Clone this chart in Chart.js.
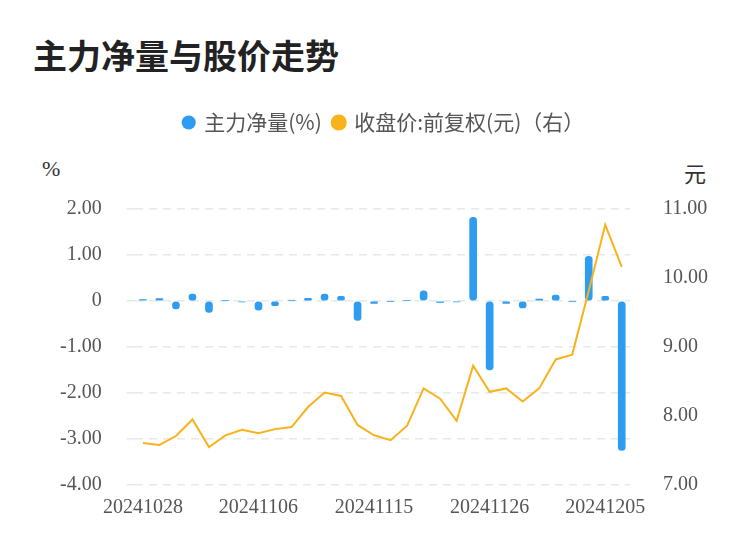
<!DOCTYPE html>
<html>
<head>
<meta charset="utf-8">
<script src="https://cdn.jsdelivr.net/npm/chart.js@4"></script>
<style>
  body { margin: 0; background: #fff; font-family: "Noto Sans CJK SC", sans-serif; }
  #wrap { position: relative; width: 750px; height: 558px; }
  h1 { position: absolute; left: 33px; top: 30px; margin: 0; font-size: 34px; font-weight: bold; color: #222; }
  .unit { position: absolute; top: 156px; font-size: 22px; color: #333; }
  #box { position: absolute; left: 0; top: 100px; width: 750px; height: 430px; }
</style>
</head>
<body>
<div id="wrap">
  <h1>主力净量与股价走势</h1>
  <div class="unit" style="left:42px;font-family:'Liberation Serif'">%</div>
  <div class="unit" style="left:684px">元</div>
  <div id="box"><canvas id="c"></canvas></div>
</div>
<script>
// 日期
const dates = ["20241028","20241029","20241030","20241031","20241101","20241104","20241105","20241106",
  "20241107","20241108","20241111","20241112","20241113","20241114","20241115","20241118","20241119",
  "20241120","20241121","20241122","20241125","20241126","20241127","20241128","20241129","20241202",
  "20241203","20241204","20241205","20241206"];
// 主力净量(%)
const netFlow = [0.03,0.05,-0.17,0.15,-0.25,0.01,-0.02,-0.2,-0.1,0.01,0.06,0.15,0.1,-0.42,-0.05,
  -0.01,0.01,0.22,-0.03,-0.02,1.82,-1.5,-0.05,-0.15,0.04,0.13,-0.01,0.97,0.1,-3.25];
// 收盘价
const price = [7.61,7.58,7.71,7.95,7.55,7.72,7.80,7.75,7.81,7.84,8.13,8.34,8.29,7.87,7.72,
  7.65,7.86,8.40,8.25,7.93,8.73,8.35,8.40,8.21,8.40,8.82,8.89,9.81,10.77,10.16];
const leftTicks = ["2.00","1.00","0","-1.00","-2.00","-3.00","-4.00"];
const rightTicks = ["11.00","10.00","9.00","8.00","7.00"];

const tickFont = { family: "Liberation Serif", size: 20 };

// legend 下方留空
const legendGap = {
  id: "legendGap",
  beforeInit(chart) {
    const fit = chart.legend.fit;
    chart.legend.fit = function () { fit.bind(chart.legend)(); this.height += 66; };
  }
};

new Chart(document.getElementById("c"), {
  data: {
    labels: dates,
    datasets: [
      {
        type: "line", label: "收盘价:前复权(元)（右）", data: price, yAxisID: "y1",
        borderColor: "#f8b31c", backgroundColor: "#f8b31c", borderWidth: 2,
        pointRadius: 0, tension: 0, order: 0
      },
      {
        type: "bar", label: "主力净量(%)", data: netFlow, yAxisID: "y",
        backgroundColor: "#2e9cf0", borderRadius: 4, borderSkipped: false,
        barThickness: 7, order: 1
      }
    ]
  },
  options: {
    animation: false, responsive: true, maintainAspectRatio: false,
    layout: { padding: { left: 35, right: 17, top: 0, bottom: 7 } },
    plugins: {
      legend: {
        reverse: true,
        labels: {
          usePointStyle: true, pointStyle: "circle", boxWidth: 10, boxHeight: 10,
          color: "#555", font: { family: "Noto Sans CJK SC", size: 21 }, padding: 12
        }
      },
      tooltip: { enabled: false }
    },
    scales: {
      x: {
        grid: { display: false }, border: { display: false },
        ticks: {
          autoSkip: false, maxRotation: 0, color: "#555", font: tickFont,
          callback: (v, i) => i % 7 === 0 ? dates[i] : ""
        }
      },
      y: {
        position: "left", min: -4, max: 2,
        afterBuildTicks: s => { s.ticks = leftTicks.map(t => ({ value: parseFloat(t) })); },
        ticks: { color: "#555", font: tickFont, padding: 25,
          callback: v => leftTicks.find(t => parseFloat(t) === v) },
        grid: { color: "#e8e8e8", lineWidth: 1.5 },
        border: { display: false, dash: [8, 6] }
      },
      y1: {
        position: "right", min: 7, max: 11,
        afterBuildTicks: s => { s.ticks = rightTicks.map(t => ({ value: parseFloat(t) })); },
        ticks: { color: "#555", font: tickFont, padding: 25,
          callback: v => rightTicks.find(t => parseFloat(t) === v) },
        grid: { display: false }, border: { display: false }
      }
    }
  },
  plugins: [legendGap]
});
</script>
</body>
</html>
